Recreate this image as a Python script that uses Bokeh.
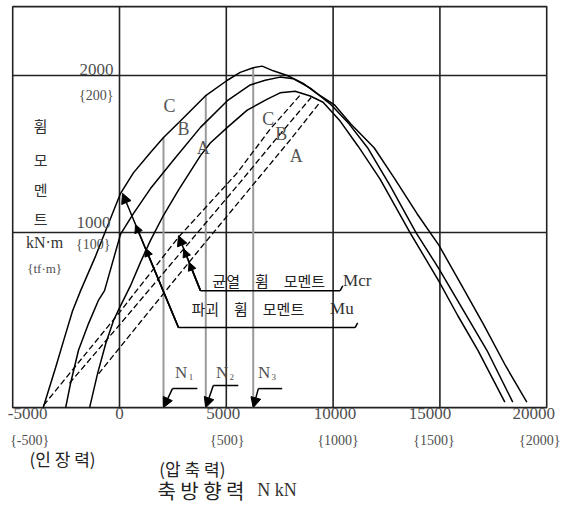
from bokeh.plotting import figure
from bokeh.models import Label, Arrow, NormalHead
from bokeh.embed import file_html
from bokeh.resources import INLINE

# ---------------- data ----------------
# chart box (kN on x, kN·m on y)
BOX_X0, BOX_X1 = -5000, 20000
BOX_Y0, BOX_Y1 = -115, 2439
# visible canvas range (box plus room for the outer texts)
VIEW_X = (-5571, 21020)
VIEW_Y = (-745, 2478)

x_ticks = [-5000, 0, 5000, 10000, 15000, 20000]
x_tick_labels = ["-5000", "0", "5000", "10000", "15000", "20000"]
x_tf_ticks = [-5000, 5000, 10000, 15000, 20000]
x_tf_labels = ["{-500}", "{500}", "{1000}", "{1500}", "{2000}"]
y_ticks = [1000, 2000]
y_tick_labels = ["1000", "2000"]
y_tf_labels = ["{100}", "{200}"]
grid_x = [0, 5000, 10000, 15000]
grid_y = [1000, 2000]

# ultimate (failure) bending moment Mu, kN·m
mu_C_x = [-3570, -2990, -2620, -2200, -1820, -1120, -420, 50, 650, 1450, 2060, 2850, 4020, 5050, 5650,
          6260, 6680, 7200, 7850, 8600, 9250, 10050, 10840, 11920, 12850, 13930, 14950, 16030, 17060,
          18080, 19070]
mu_C_y = [-115, 140, 310, 500, 630, 850, 1090, 1250, 1380, 1510, 1605, 1710, 1870, 1970, 2020,
          2050, 2060, 2030, 2000, 1950, 1885, 1815, 1690, 1540, 1350, 1120, 920, 660, 410,
          150, -80]
mu_B_x = [-2520, -2290, -1920, -1450, -980, -700, 50, 650, 1450, 2520, 3790, 5050, 6120, 6820, 7520,
          8130, 8930, 9860, 10700, 11640, 12660, 13880, 14950, 16030, 17200, 18410]
mu_B_y = [-115, 40, 250, 420, 570, 630, 990, 1120, 1280, 1460, 1670, 1840, 1940, 1970, 1990,
          1980, 1920, 1820, 1700, 1535, 1300, 1000, 770, 520, 250, -80]
mu_A_x = [-1400, -1030, -650, -280, 0, 510, 980, 1450, 2060, 2760, 3790, 4250, 5050, 5980, 6920,
          7520, 8220, 8930, 9530, 10330, 11170, 12200, 13600, 14950, 15840, 16780, 18040]
mu_A_y = [-115, 100, 290, 440, 520, 660, 810, 950, 1110, 1270, 1490, 1570, 1670, 1780, 1850,
          1890, 1900, 1870, 1830, 1710, 1550, 1340, 1000, 690, 470, 250, -80]

# cracking bending moment Mcr, kN·m
mcr_C_x = [-3550, 50, 2760, 5510, 7060, 8550]
mcr_C_y = [-100, 500, 970, 1380, 1660, 1890]
mcr_B_x = [-2340, 50, 2850, 5650, 7290, 8970]
mcr_B_y = [40, 420, 870, 1320, 1590, 1860]
mcr_A_x = [-980, 980, 3790, 6590, 7990, 9390]
mcr_A_y = [100, 430, 900, 1360, 1590, 1830]

# axial forces N1, N2, N3
n_x = [2060, 4040, 6260]
n_top = [1605, 1875, 2050]
n_names = ["1", "2", "3"]

# ---------------- figure ----------------
p = figure(width=568, height=506, x_range=VIEW_X, y_range=VIEW_Y,
           output_backend="svg", toolbar_location=None,
           x_axis_location=None, y_axis_location=None,
           min_border=0, min_border_left=0, min_border_right=0,
           min_border_top=0, min_border_bottom=0)
p.grid.visible = False
p.outline_line_color = None
p.background_fill_color = "white"
p.border_fill_color = "white"

GRID = "#222222"
# box and grid
p.quad(left=[BOX_X0], right=[BOX_X1], bottom=[BOX_Y0], top=[BOX_Y1],
       fill_color=None, line_color=GRID, line_width=1.6)
p.segment(x0=grid_x, y0=[BOX_Y0] * len(grid_x), x1=grid_x, y1=[BOX_Y1] * len(grid_x),
          line_color=GRID, line_width=1.6)
p.segment(x0=[BOX_X0] * len(grid_y), y0=grid_y, x1=[BOX_X1] * len(grid_y), y1=grid_y,
          line_color=GRID, line_width=1.6)

# gray N lines
p.segment(x0=n_x, y0=[BOX_Y0] * len(n_x), x1=n_x, y1=n_top, line_color="#9a9a9a", line_width=2)

# curves
for xs, ys in [(mu_C_x, mu_C_y), (mu_B_x, mu_B_y), (mu_A_x, mu_A_y)]:
    p.line(xs, ys, line_color="black", line_width=1.5)
for xs, ys in [(mcr_C_x, mcr_C_y), (mcr_B_x, mcr_B_y), (mcr_A_x, mcr_A_y)]:
    p.line(xs, ys, line_color="black", line_width=1.3, line_dash="6 3")

SERIF = "Liberation Serif"
KR = "Noto Sans CJK KR"


def lab(text, x, y, size, font=SERIF, color="#333333", align="center", baseline="middle", **kw):
    p.add_layout(Label(x=x, y=y, text=text, text_font=font, text_font_size=f"{size}px",
                       text_color=color, text_align=align, text_baseline=baseline, **kw))


def head(size):
    return NormalHead(size=size, fill_color="black", line_color="black")


# leaders: Mu
mu_leader_x = [140, 2760, 11030]
mu_leader_y = [1250, 395, 395]
mu_marks_x = [750, 1220]
mu_marks_y = [1050, 900]
p.line(mu_leader_x[1:], mu_leader_y[1:], line_color="black", line_width=1.5)
p.line([mu_leader_x[2], mu_leader_x[2] + 120], [mu_leader_y[2], mu_leader_y[2] + 30],
       line_color="black", line_width=1.5)
p.add_layout(Arrow(x_start=mu_leader_x[1], y_start=mu_leader_y[1], x_end=mu_leader_x[0],
                   y_end=mu_leader_y[0], line_width=1.5, end=head(10)))
for mx, my in zip(mu_marks_x, mu_marks_y):
    p.add_layout(Arrow(x_start=mu_leader_x[1], y_start=mu_leader_y[1], x_end=mx, y_end=my,
                       line_width=1.5, end=head(8)))

# leaders: Mcr
mcr_leader_x = [2760, 3790, 10330]
mcr_leader_y = [980, 630, 630]
mcr_marks_x = [3010, 3260]
mcr_marks_y = [895, 810]
p.line(mcr_leader_x[1:], mcr_leader_y[1:], line_color="black", line_width=1.5)
p.line([mcr_leader_x[2], mcr_leader_x[2] + 120], [mcr_leader_y[2], mcr_leader_y[2] + 30],
       line_color="black", line_width=1.5)
p.add_layout(Arrow(x_start=mcr_leader_x[1], y_start=mcr_leader_y[1], x_end=mcr_leader_x[0],
                   y_end=mcr_leader_y[0], line_width=1.5, end=head(10)))
for mx, my in zip(mcr_marks_x, mcr_marks_y):
    p.add_layout(Arrow(x_start=mcr_leader_x[1], y_start=mcr_leader_y[1], x_end=mx, y_end=my,
                       line_width=1.5, end=head(8)))

# N leaders
n_corner_x = [2480, 4390, 6500]
n_corner_y = [6, 25, 6]
n_end_x = [3645, 5561, 7617]
n_text_x = [3178, 5094, 7056]
for i in range(3):
    p.line([n_corner_x[i], n_end_x[i]], [n_corner_y[i], n_corner_y[i]], line_color="black", line_width=1.5)
    p.add_layout(Arrow(x_start=n_corner_x[i], y_start=n_corner_y[i], x_end=n_x[i], y_end=BOX_Y0,
                       line_width=1.5, end=head(10)))
    lab("N", n_text_x[i], 108, 17, color="#505050", align="right")
    lab(n_names[i], n_text_x[i] + 60, 80, 9, color="#505050", align="left")

# annotation texts
lab("균열\u3000휨\u3000모멘트", 4346, 694, 15, font=KR, color="#222222", align="left")
lab("Mcr", 10468, 694, 17, color="#333333", align="left")
lab("파괴\u3000휨\u3000모멘트", 3365, 516, 15, font=KR, color="#222222", align="left")
lab("Mu", 9860, 516, 17, color="#333333", align="left")

# curve letters
lab("C", 2336, 1809, 18, color="#555555")
lab("B", 2991, 1662, 18, color="#555555")
lab("A", 3925, 1541, 18, color="#555555")
lab("C", 6963, 1726, 18, color="#555555")
lab("B", 7570, 1630, 18, color="#555555")
lab("A", 8271, 1490, 18, color="#555555")

# y labels (inside the box)
y_lab_x = [-420, -280]
y_lab_y = [1064, 2038]
y_tf_y = [923, 1872]
for i in range(2):
    lab(y_tick_labels[i], y_lab_x[i], y_lab_y[i], 17, color="#505050", align="right")
    lab(y_tf_labels[i], y_lab_x[i], y_tf_y[i], 14, color="#505050", align="right")
for ch, yy in zip(["휨", "모", "멘", "트"], [1681, 1465, 1274, 1089]):
    lab(ch, -3692, yy, 15, font=KR, color="#333333")
p.add_layout(Label(x=-3505, y=936, text="kN·m", text_font=SERIF, text_font_size="16px",
                   text_color="#333333", text_align="center", text_baseline="middle",
                   background_fill_color="white", background_fill_alpha=1.0))
lab("{tf·m}", -3505, 771, 13, color="#505050")

# x labels (below the box)
x_off = [15, 0, -3, 2, -10, -13]
for t, s, o in zip(x_ticks, x_tick_labels, x_off):
    lab(s, t, -153, 17, color="#505050", x_offset=o)
x_tf_off = [17, 1, 5, -6, -7]
for t, s, o in zip(x_tf_ticks, x_tf_labels, x_tf_off):
    lab(s, t, -325, 14, color="#505050", x_offset=o)
lab("(인 장 력)", -2664, -439, 17, font=KR, color="#222222")
lab("(압 축 력)", 3411, -503, 17, font=KR, color="#222222")
lab("축 방 향 력", 1776, -643, 20, font=KR, color="#222222", align="left")
lab("N kN", 6450, -643, 18, color="#333333", align="left")

open("out.html", "w").write(file_html(p, INLINE))
